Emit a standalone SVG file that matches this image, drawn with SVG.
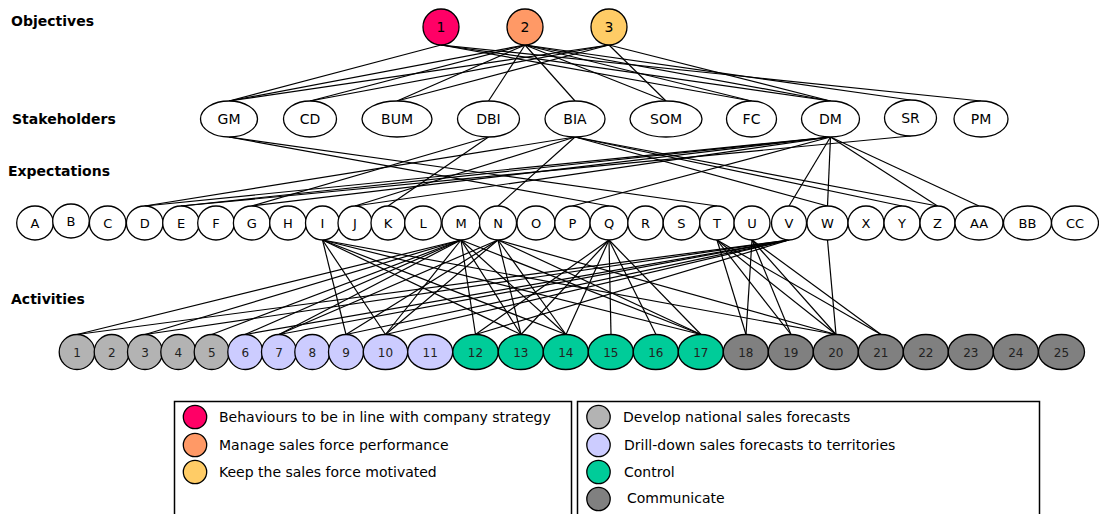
<svg xmlns="http://www.w3.org/2000/svg" width="1099" height="514" viewBox="0 0 1099 514">
<style>
text{font-family:"DejaVu Sans",Verdana,sans-serif;fill:#000}
.h{font-weight:bold;font-size:14px}
.n{stroke:#000;stroke-width:1.3}
.w{fill:#fff}
.t14{font-size:14px;text-anchor:middle}
.t13{font-size:13px;text-anchor:middle}
.t12{font-size:12px;text-anchor:middle;fill:#222}
#connectors line{stroke:#000;stroke-width:1.2}
.lg{font-size:14px}
.box{fill:none;stroke:#000;stroke-width:1.5}
.c1{fill:#FF0066}.c2{fill:#FF9966}.c3{fill:#FFCC66}
.g1{fill:#B3B3B3}.g2{fill:#CCCCFF}.g3{fill:#00CC99}.g4{fill:#808080}
</style>
<rect width="1099" height="514" fill="#fff"/>
<g id="titles">
<text x="11" y="26" class="h">Objectives</text>
<text x="12" y="124" class="h">Stakeholders</text>
<text x="8" y="176" class="h">Expectations</text>
<text x="11" y="304" class="h">Activities</text>
</g>
<g id="connectors">
<!-- objectives to stakeholders -->
<line x1="441" y1="45" x2="229" y2="101"/>
<line x1="441" y1="45" x2="751.5" y2="101"/>
<line x1="441" y1="45" x2="830.5" y2="101"/>
<line x1="441" y1="45" x2="981" y2="101"/>
<line x1="525" y1="45" x2="229" y2="101"/>
<line x1="525" y1="45" x2="310" y2="101"/>
<line x1="525" y1="45" x2="397" y2="101"/>
<line x1="525" y1="45" x2="488.5" y2="101"/>
<line x1="525" y1="45" x2="575" y2="101"/>
<line x1="525" y1="45" x2="666" y2="101"/>
<line x1="525" y1="45" x2="751.5" y2="101"/>
<line x1="525" y1="45" x2="830.5" y2="101"/>
<line x1="525" y1="45" x2="910.5" y2="100"/>
<line x1="609" y1="45" x2="229" y2="101"/>
<line x1="609" y1="45" x2="310" y2="101"/>
<line x1="609" y1="45" x2="397" y2="101"/>
<line x1="609" y1="45" x2="666" y2="101"/>
<line x1="609" y1="45" x2="830.5" y2="101"/>
<!-- stakeholders to expectations -->
<line x1="229" y1="137" x2="609" y2="206"/>
<line x1="229" y1="137" x2="717" y2="206"/>
<line x1="488.5" y1="137" x2="251.7" y2="206"/>
<line x1="488.5" y1="137" x2="388" y2="206"/>
<line x1="575" y1="137" x2="144.7" y2="206"/>
<line x1="575" y1="137" x2="355" y2="206"/>
<line x1="575" y1="137" x2="498" y2="206"/>
<line x1="575" y1="137" x2="827.5" y2="206"/>
<line x1="575" y1="137" x2="902" y2="206"/>
<line x1="575" y1="137" x2="937.5" y2="206"/>
<line x1="830.5" y1="137" x2="144.7" y2="206"/>
<line x1="830.5" y1="137" x2="181" y2="206"/>
<line x1="830.5" y1="137" x2="251.7" y2="206"/>
<line x1="830.5" y1="137" x2="355" y2="206"/>
<line x1="830.5" y1="137" x2="572.5" y2="206"/>
<line x1="830.5" y1="137" x2="789" y2="206"/>
<line x1="830.5" y1="137" x2="827.5" y2="206"/>
<line x1="830.5" y1="137" x2="937.5" y2="206"/>
<line x1="830.5" y1="137" x2="979" y2="206"/>
<line x1="910.5" y1="136" x2="181" y2="206"/>
<!-- expectations to activities -->
<line x1="322.5" y1="240" x2="346" y2="334.5"/>
<line x1="322.5" y1="240" x2="385.5" y2="334.5"/>
<line x1="322.5" y1="240" x2="521" y2="334.5"/>
<line x1="322.5" y1="240" x2="566" y2="334.5"/>
<line x1="322.5" y1="240" x2="701" y2="334.5"/>
<line x1="322.5" y1="240" x2="836" y2="334.5"/>
<line x1="461" y1="240" x2="77" y2="334.5"/>
<line x1="461" y1="240" x2="145" y2="334.5"/>
<line x1="461" y1="240" x2="211.7" y2="334.5"/>
<line x1="461" y1="240" x2="245" y2="334.5"/>
<line x1="461" y1="240" x2="279" y2="334.5"/>
<line x1="461" y1="240" x2="385.5" y2="334.5"/>
<line x1="461" y1="240" x2="475.5" y2="334.5"/>
<line x1="461" y1="240" x2="521" y2="334.5"/>
<line x1="461" y1="240" x2="566" y2="334.5"/>
<line x1="461" y1="240" x2="701" y2="334.5"/>
<line x1="498" y1="240" x2="279" y2="334.5"/>
<line x1="498" y1="240" x2="346" y2="334.5"/>
<line x1="498" y1="240" x2="385.5" y2="334.5"/>
<line x1="498" y1="240" x2="521" y2="334.5"/>
<line x1="498" y1="240" x2="566" y2="334.5"/>
<line x1="498" y1="240" x2="701" y2="334.5"/>
<line x1="498" y1="240" x2="836" y2="334.5"/>
<line x1="609" y1="240" x2="475.5" y2="334.5"/>
<line x1="609" y1="240" x2="521" y2="334.5"/>
<line x1="609" y1="240" x2="566" y2="334.5"/>
<line x1="609" y1="240" x2="611" y2="334.5"/>
<line x1="609" y1="240" x2="656" y2="334.5"/>
<line x1="609" y1="240" x2="701" y2="334.5"/>
<line x1="717" y1="240" x2="746" y2="334.5"/>
<line x1="717" y1="240" x2="791" y2="334.5"/>
<line x1="717" y1="240" x2="836" y2="334.5"/>
<line x1="717" y1="240" x2="881" y2="334.5"/>
<line x1="752" y1="240" x2="746" y2="334.5"/>
<line x1="752" y1="240" x2="791" y2="334.5"/>
<line x1="752" y1="240" x2="836" y2="334.5"/>
<line x1="752" y1="240" x2="881" y2="334.5"/>
<line x1="789" y1="240" x2="77" y2="334.5"/>
<line x1="789" y1="240" x2="145" y2="334.5"/>
<line x1="789" y1="240" x2="245" y2="334.5"/>
<line x1="789" y1="240" x2="279" y2="334.5"/>
<line x1="789" y1="240" x2="346" y2="334.5"/>
<line x1="789" y1="240" x2="385.5" y2="334.5"/>
<line x1="789" y1="240" x2="475.5" y2="334.5"/>
<line x1="827.5" y1="240" x2="836" y2="334.5"/>
</g>
<g id="objectives">
<g id="obj-1"><circle cx="441" cy="27" r="18" class="n c1"/><text x="441" y="32" class="t14">1</text></g>
<g id="obj-2"><circle cx="525" cy="27" r="18" class="n c2"/><text x="525" y="32" class="t14">2</text></g>
<g id="obj-3"><circle cx="609" cy="27" r="18" class="n c3"/><text x="609" y="32" class="t14">3</text></g>
</g>
<g id="stakeholders">
<g id="sh-GM"><ellipse cx="229" cy="119" rx="28.5" ry="18" class="n w"/><text x="229" y="124" class="t14">GM</text></g>
<g id="sh-CD"><ellipse cx="310" cy="119" rx="26.5" ry="18" class="n w"/><text x="310" y="124" class="t14">CD</text></g>
<g id="sh-BUM"><ellipse cx="397" cy="119" rx="35" ry="18" class="n w"/><text x="397" y="124" class="t14">BUM</text></g>
<g id="sh-DBI"><ellipse cx="488.5" cy="119" rx="31" ry="18" class="n w"/><text x="488.5" y="124" class="t14">DBI</text></g>
<g id="sh-BIA"><ellipse cx="575" cy="119" rx="30" ry="18" class="n w"/><text x="575" y="124" class="t14">BIA</text></g>
<g id="sh-SOM"><ellipse cx="666" cy="119" rx="36" ry="18" class="n w"/><text x="666" y="124" class="t14">SOM</text></g>
<g id="sh-FC"><ellipse cx="751.5" cy="119" rx="25" ry="18" class="n w"/><text x="751.5" y="124" class="t14">FC</text></g>
<g id="sh-DM"><ellipse cx="830.5" cy="119" rx="29" ry="18" class="n w"/><text x="830.5" y="124" class="t14">DM</text></g>
<g id="sh-SR"><ellipse cx="910.5" cy="118" rx="26" ry="18" class="n w"/><text x="910.5" y="123" class="t14">SR</text></g>
<g id="sh-PM"><ellipse cx="981" cy="119" rx="27" ry="18" class="n w"/><text x="981" y="124" class="t14">PM</text></g>
</g>
<g id="expectations">
<g id="ex-A"><ellipse cx="35" cy="223" rx="18.3" ry="17" class="n w"/><text x="35" y="228" class="t13">A</text></g>
<g id="ex-B"><ellipse cx="71" cy="221" rx="18.3" ry="17" class="n w"/><text x="71" y="226" class="t13">B</text></g>
<g id="ex-C"><ellipse cx="107.7" cy="223" rx="18.3" ry="17" class="n w"/><text x="107.7" y="228" class="t13">C</text></g>
<g id="ex-D"><ellipse cx="144.7" cy="223" rx="18.3" ry="17" class="n w"/><text x="144.7" y="228" class="t13">D</text></g>
<g id="ex-E"><ellipse cx="181" cy="223" rx="18.3" ry="17" class="n w"/><text x="181" y="228" class="t13">E</text></g>
<g id="ex-F"><ellipse cx="216" cy="223" rx="18.3" ry="17" class="n w"/><text x="216" y="228" class="t13">F</text></g>
<g id="ex-G"><ellipse cx="251.7" cy="223" rx="18.3" ry="17" class="n w"/><text x="251.7" y="228" class="t13">G</text></g>
<g id="ex-H"><ellipse cx="288" cy="223" rx="18.3" ry="17" class="n w"/><text x="288" y="228" class="t13">H</text></g>
<g id="ex-I"><ellipse cx="322.5" cy="223" rx="17" ry="17" class="n w"/><text x="322.5" y="228" class="t13">I</text></g>
<g id="ex-J"><ellipse cx="355" cy="223" rx="17" ry="17" class="n w"/><text x="355" y="228" class="t13">J</text></g>
<g id="ex-K"><ellipse cx="388" cy="223" rx="17" ry="17" class="n w"/><text x="388" y="228" class="t13">K</text></g>
<g id="ex-L"><ellipse cx="423" cy="223" rx="18.3" ry="17" class="n w"/><text x="423" y="228" class="t13">L</text></g>
<g id="ex-M"><ellipse cx="461" cy="223" rx="19" ry="17" class="n w"/><text x="461" y="228" class="t13">M</text></g>
<g id="ex-N"><ellipse cx="498" cy="223" rx="18.5" ry="17" class="n w"/><text x="498" y="228" class="t13">N</text></g>
<g id="ex-O"><ellipse cx="536" cy="223" rx="19" ry="17" class="n w"/><text x="536" y="228" class="t13">O</text></g>
<g id="ex-P"><ellipse cx="572.5" cy="223" rx="17.7" ry="17" class="n w"/><text x="572.5" y="228" class="t13">P</text></g>
<g id="ex-Q"><ellipse cx="609" cy="223" rx="19" ry="17" class="n w"/><text x="609" y="228" class="t13">Q</text></g>
<g id="ex-R"><ellipse cx="645.5" cy="223" rx="17.7" ry="17" class="n w"/><text x="645.5" y="228" class="t13">R</text></g>
<g id="ex-S"><ellipse cx="681.5" cy="223" rx="18.3" ry="17" class="n w"/><text x="681.5" y="228" class="t13">S</text></g>
<g id="ex-T"><ellipse cx="717" cy="223" rx="17.3" ry="17" class="n w"/><text x="717" y="228" class="t13">T</text></g>
<g id="ex-U"><ellipse cx="752" cy="223" rx="18" ry="17" class="n w"/><text x="752" y="228" class="t13">U</text></g>
<g id="ex-V"><ellipse cx="789" cy="223" rx="17.5" ry="17" class="n w"/><text x="789" y="228" class="t13">V</text></g>
<g id="ex-W"><ellipse cx="827.5" cy="223" rx="20.5" ry="17" class="n w"/><text x="827.5" y="228" class="t13">W</text></g>
<g id="ex-X"><ellipse cx="866" cy="223" rx="18" ry="17" class="n w"/><text x="866" y="228" class="t13">X</text></g>
<g id="ex-Y"><ellipse cx="902" cy="223" rx="18" ry="17" class="n w"/><text x="902" y="228" class="t13">Y</text></g>
<g id="ex-Z"><ellipse cx="937.5" cy="223" rx="17.5" ry="17" class="n w"/><text x="937.5" y="228" class="t13">Z</text></g>
<g id="ex-AA"><ellipse cx="979" cy="223" rx="24" ry="17" class="n w"/><text x="979" y="228" class="t13">AA</text></g>
<g id="ex-BB"><ellipse cx="1027.5" cy="223" rx="24" ry="17" class="n w"/><text x="1027.5" y="228" class="t13">BB</text></g>
<g id="ex-CC"><ellipse cx="1075" cy="223" rx="23.5" ry="17" class="n w"/><text x="1075" y="228" class="t13">CC</text></g>
</g>
<g id="activities">
<g id="ac-1"><ellipse cx="77" cy="352" rx="17.8" ry="17.5" class="n g1"/><text x="77" y="356.5" class="t12">1</text></g>
<g id="ac-2"><ellipse cx="111.7" cy="352" rx="17.5" ry="17.5" class="n g1"/><text x="111.7" y="356.5" class="t12">2</text></g>
<g id="ac-3"><ellipse cx="145" cy="352" rx="17.5" ry="17.5" class="n g1"/><text x="145" y="356.5" class="t12">3</text></g>
<g id="ac-4"><ellipse cx="178.3" cy="352" rx="17.5" ry="17.5" class="n g1"/><text x="178.3" y="356.5" class="t12">4</text></g>
<g id="ac-5"><ellipse cx="211.7" cy="352" rx="17.5" ry="17.5" class="n g1"/><text x="211.7" y="356.5" class="t12">5</text></g>
<g id="ac-6"><ellipse cx="245.3" cy="352" rx="17.5" ry="17.5" class="n g2"/><text x="245.3" y="356.5" class="t12">6</text></g>
<g id="ac-7"><ellipse cx="279" cy="352" rx="17.5" ry="17.5" class="n g2"/><text x="279" y="356.5" class="t12">7</text></g>
<g id="ac-8"><ellipse cx="312.3" cy="352" rx="17.5" ry="17.5" class="n g2"/><text x="312.3" y="356.5" class="t12">8</text></g>
<g id="ac-9"><ellipse cx="346" cy="352" rx="17.5" ry="17.5" class="n g2"/><text x="346" y="356.5" class="t12">9</text></g>
<g id="ac-10"><ellipse cx="385.5" cy="352" rx="22.2" ry="17.5" class="n g2"/><text x="385.5" y="356.5" class="t12">10</text></g>
<g id="ac-11"><ellipse cx="430.2" cy="352" rx="22.5" ry="17.5" class="n g2"/><text x="430.2" y="356.5" class="t12">11</text></g>
<g id="ac-12"><ellipse cx="475.5" cy="352" rx="22.7" ry="17.5" class="n g3"/><text x="475.5" y="356.5" class="t12">12</text></g>
<g id="ac-13"><ellipse cx="520.8" cy="352" rx="22.5" ry="17.5" class="n g3"/><text x="520.8" y="356.5" class="t12">13</text></g>
<g id="ac-14"><ellipse cx="565.8" cy="352" rx="22.5" ry="17.5" class="n g3"/><text x="565.8" y="356.5" class="t12">14</text></g>
<g id="ac-15"><ellipse cx="610.8" cy="352" rx="22.5" ry="17.5" class="n g3"/><text x="610.8" y="356.5" class="t12">15</text></g>
<g id="ac-16"><ellipse cx="655.8" cy="352" rx="22.5" ry="17.5" class="n g3"/><text x="655.8" y="356.5" class="t12">16</text></g>
<g id="ac-17"><ellipse cx="700.8" cy="352" rx="22.5" ry="17.5" class="n g3"/><text x="700.8" y="356.5" class="t12">17</text></g>
<g id="ac-18"><ellipse cx="745.8" cy="352" rx="22.5" ry="17.5" class="n g4"/><text x="745.8" y="356.5" class="t12">18</text></g>
<g id="ac-19"><ellipse cx="790.8" cy="352" rx="22.5" ry="17.5" class="n g4"/><text x="790.8" y="356.5" class="t12">19</text></g>
<g id="ac-20"><ellipse cx="835.8" cy="352" rx="22.5" ry="17.5" class="n g4"/><text x="835.8" y="356.5" class="t12">20</text></g>
<g id="ac-21"><ellipse cx="880.8" cy="352" rx="22.5" ry="17.5" class="n g4"/><text x="880.8" y="356.5" class="t12">21</text></g>
<g id="ac-22"><ellipse cx="925.8" cy="352" rx="22.5" ry="17.5" class="n g4"/><text x="925.8" y="356.5" class="t12">22</text></g>
<g id="ac-23"><ellipse cx="970.8" cy="352" rx="22.5" ry="17.5" class="n g4"/><text x="970.8" y="356.5" class="t12">23</text></g>
<g id="ac-24"><ellipse cx="1015.8" cy="352" rx="22.5" ry="17.5" class="n g4"/><text x="1015.8" y="356.5" class="t12">24</text></g>
<g id="ac-25"><ellipse cx="1061.5" cy="352" rx="23" ry="17.5" class="n g4"/><text x="1061.5" y="356.5" class="t12">25</text></g>
</g>
<g id="legend-objectives">
<rect x="174.5" y="401.5" width="397" height="130" class="box"/>
<circle cx="195" cy="417" r="11.7" class="n c1"/><text x="219" y="422" class="lg">Behaviours to be in line with company strategy</text>
<circle cx="195" cy="445" r="11.7" class="n c2"/><text x="219" y="450" class="lg">Manage sales force performance</text>
<circle cx="195" cy="472" r="11.7" class="n c3"/><text x="219" y="477" class="lg">Keep the sales force motivated</text>
</g>
<g id="legend-activities">
<rect x="577.5" y="401.5" width="462" height="130" class="box"/>
<circle cx="598.5" cy="417" r="11.7" class="n g1"/><text x="623" y="422" class="lg">Develop national sales forecasts</text>
<circle cx="598.5" cy="445" r="11.7" class="n g2"/><text x="624" y="450" class="lg">Drill-down sales forecasts to territories</text>
<circle cx="598.5" cy="472" r="11.7" class="n g3"/><text x="624" y="477" class="lg">Control</text>
<circle cx="598.5" cy="499" r="11.7" class="n g4"/><text x="627" y="503" class="lg">Communicate</text>
</g>
</svg>
